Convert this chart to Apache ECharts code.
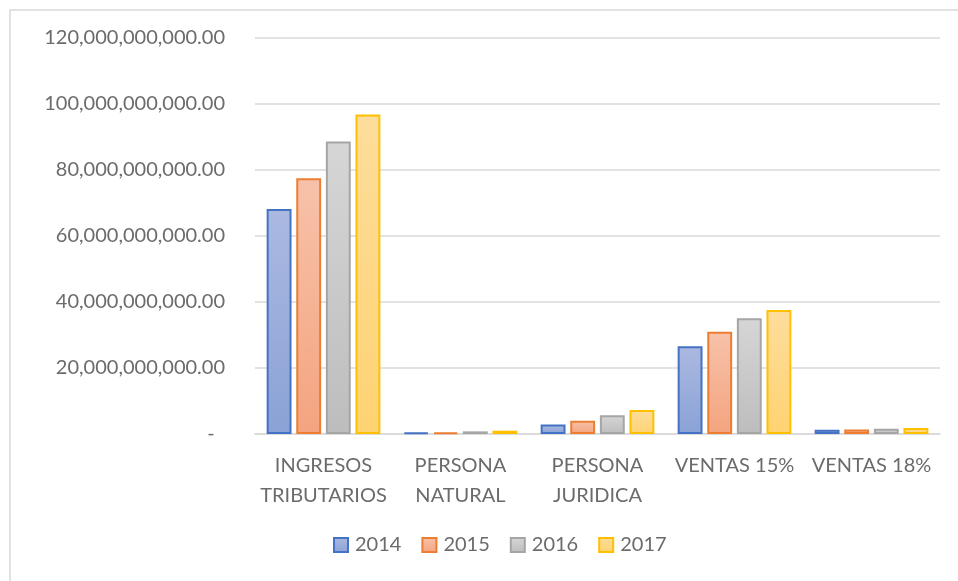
<!DOCTYPE html>
<html>
<head>
<meta charset="utf-8">
<style>
  html, body { margin: 0; padding: 0; background: #fff; }
  #chart { width: 958px; height: 581px; }
</style>
<script src="https://cdn.jsdelivr.net/npm/echarts@6/dist/echarts.min.js"></script>
</head>
<body>
<div id="chart"></div>
<script>
// categories on the x axis (two-line labels as in the sheet)
const categories = ['INGRESOS\nTRIBUTARIOS', 'PERSONA\nNATURAL', 'PERSONA\nJURIDICA', 'VENTAS 15%', 'VENTAS 18%'];
const years = ['2014', '2015', '2016', '2017'];

// values
const values2014 = [68200000000, 400000000, 2900000000, 26600000000, 1300000000];
const values2015 = [77500000000, 500000000, 4000000000, 31000000000, 1400000000];
const values2016 = [88600000000, 800000000, 5700000000, 35100000000, 1600000000];
const values2017 = [96800000000, 1000000000, 7300000000, 37600000000, 1800000000];

const yTicks = [0, 20000000000, 40000000000, 60000000000, 80000000000, 100000000000, 120000000000];

// excel-ish colours: border, gradient top, gradient bottom
const palette = [
  ['#4472c4', '#abb9e1', '#8aa2d6'],
  ['#ed7d31', '#f7c2aa', '#f4a47f'],
  ['#a5a5a5', '#d6d6d6', '#bdbdbd'],
  ['#ffc000', '#fedd9c', '#fed372']
];

function fmt(v) {
  if (v === 0) return '-  ';
  return v.toLocaleString('en-US', { minimumFractionDigits: 2, maximumFractionDigits: 2 });
}

const chart = echarts.init(document.getElementById('chart'));
const allValues = [values2014, values2015, values2016, values2017];
const font = 'Lato, "Open Sans", sans-serif';

const option = {
  backgroundColor: '#ffffff',
  animation: false,
  textStyle: { fontFamily: font },
  graphic: [{
    type: 'rect',
    shape: { x: 10, y: 10, width: 1200, height: 1200 },
    style: { fill: 'none', stroke: '#d9d9d9', lineWidth: 1.5 },
    silent: true
  }],
  grid: { left: 255, right: 18, top: 38, bottom: 147 },
  legend: {
    bottom: 21,
    left: 328,
    itemWidth: 14,
    itemHeight: 14,
    itemGap: 20,
    icon: 'rect',
    textStyle: { fontSize: 20, color: '#6b6b6b', fontFamily: font, padding: [0, 0, 0, 2] },
    data: years
  },
  xAxis: {
    type: 'category',
    data: categories,
    axisLine: { lineStyle: { color: '#d9d9d9', width: 1.5 } },
    axisTick: { show: false },
    axisLabel: { fontSize: 20, color: '#6b6b6b', lineHeight: 30, margin: 17, interval: 0, fontFamily: font }
  },
  yAxis: {
    type: 'value',
    min: yTicks[0],
    max: yTicks[yTicks.length - 1],
    interval: 20000000000,
    axisLine: { show: false },
    axisTick: { show: false },
    splitLine: { lineStyle: { color: '#d9d9d9', width: 1.5 } },
    axisLabel: { fontSize: 20, color: '#6b6b6b', margin: 30, formatter: fmt, fontFamily: font }
  },
  series: years.map((y, i) => ({
    name: y,
    type: 'bar',
    data: allValues[i],
    barGap: '19%',
    barCategoryGap: '17%',
    itemStyle: {
      borderColor: palette[i][0],
      borderWidth: 2,
      color: new echarts.graphic.LinearGradient(0, 0, 0, 1, [
        { offset: 0, color: palette[i][1] },
        { offset: 1, color: palette[i][2] }
      ])
    }
  }))
};

chart.setOption(option);
</script>
</body>
</html>
